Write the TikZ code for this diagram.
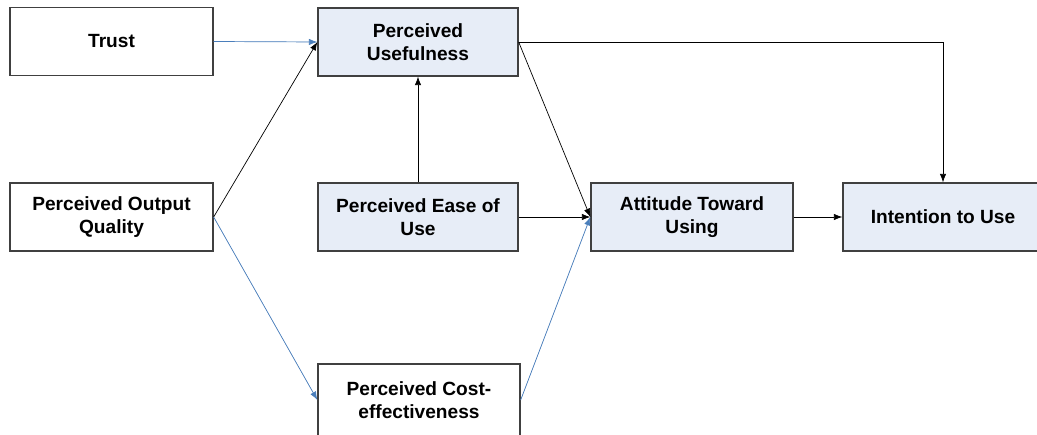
\documentclass[tikz,border=0pt]{standalone}
\usepackage{fontspec}
\setmainfont{Liberation Sans}
\usetikzlibrary{arrows.meta}
\definecolor{boxfill}{RGB}{231,237,247}
\definecolor{boxline}{RGB}{64,64,64}
\definecolor{linkblue}{RGB}{74,126,187}
\begin{document}
\begin{tikzpicture}[
    x=0.025cm, y=-0.025cm,
    every node/.style={font=\fontsize{13.6}{16.3}\selectfont\bfseries, align=center},
    factor/.style={draw=boxline, line width=0.9pt, fill=white, minimum height=1.7cm, inner sep=0pt},
    core/.style={factor, fill=boxfill},
    link/.style={draw, line width=0.5pt, -{Latex[length=6pt,width=4.5pt]}},
    bluelink/.style={link, draw=linkblue, fill=linkblue}
]
\useasboundingbox (0,0) rectangle (1037,434);
\clip (0,0) rectangle (1037,434);
% external factors
\node[factor, minimum width=5.075cm] (trust) at (111.5,41.5) {Trust};
\node[factor, minimum width=5.075cm] (poq) at (111.5,217) {Perceived Output\\Quality};
\node[factor, minimum width=5.05cm, minimum height=1.8cm] (pce) at (419,400) {Perceived Cost-\\effectiveness};
% TAM core
\node[core, minimum width=5cm] (pu) at (418,42) {Perceived\\Usefulness};
\node[core, minimum width=5cm] (peou) at (418,217) {Perceived Ease of\\Use};
\node[core, minimum width=5.05cm] (atu) at (692,217) {Attitude Toward\\Using};
\node[core, minimum width=5cm] (itu) at (943,217) {Intention to Use};
% connectors
\draw[bluelink] (trust.east) -- (pu.west);
\draw[link] (poq.east) -- (pu.west);
\draw[bluelink] (poq.east) -- (pce.west);
\draw[link] (peou.north) -- (pu.south);
\draw[link] (peou.east) -- (atu.west);
\draw[link] (pu.east) -- (atu.west);
\draw[bluelink] (pce.east) -- (atu.west);
\draw[link] (atu.east) -- (itu.west);
\draw[link] (pu.east) -| (itu.north);
\end{tikzpicture}
\end{document}
